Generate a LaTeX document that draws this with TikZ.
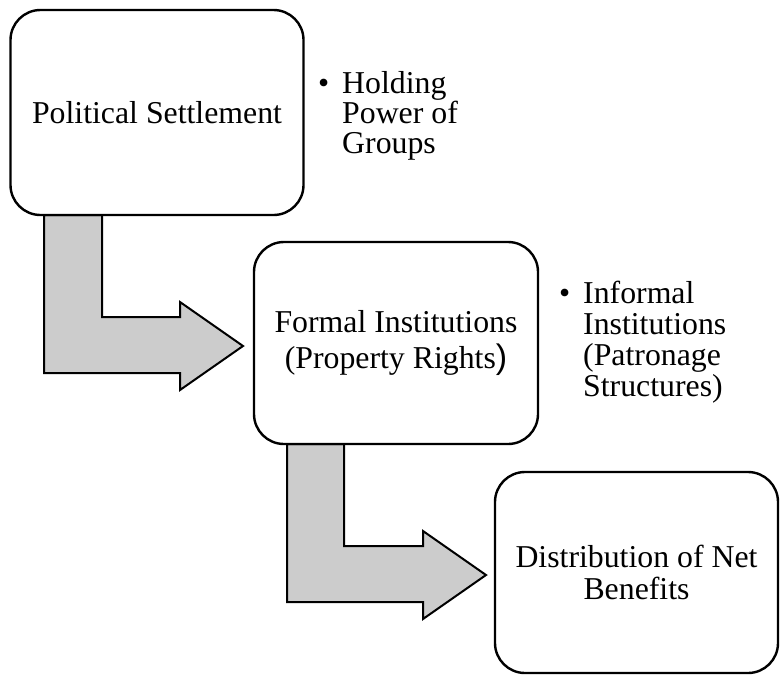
\documentclass[tikz,border=0pt]{standalone}
\usepackage{fontspec}
\setmainfont{Liberation Serif}
\newfontfamily\sanspar{Liberation Sans}
\begin{document}
\begin{tikzpicture}[x=1pt,y=-1pt,
  box/.style={draw=black,line width=2.4pt,rounded corners=30pt,fill=white,
    inner sep=0pt,align=center,font=\fontsize{31.8}{36}\selectfont},
  bendarrow/.style={draw=black,line width=2pt,fill=black!20,line join=miter},
  bullettext/.style={anchor=base west,inner sep=0pt,font=\fontsize{31.8}{31}\selectfont}]
\useasboundingbox (0,0) rectangle (781,675);
% arrows
\draw[bendarrow] (44,215) -- (44,373) -- (180,373) -- (180,390) -- (243,346)
  -- (180,302) -- (180,317) -- (102,317) -- (102,215) -- cycle;
\draw[bendarrow] (287,444) -- (287,602) -- (423,602) -- (423,619) -- (486,575)
  -- (423,531) -- (423,546) -- (344,546) -- (344,444) -- cycle;
% boxes
\node[box,minimum width=293pt,minimum height=205pt] (ps) at (157,112.5) {Political Settlement};
\node[box,minimum width=284pt,minimum height=202pt] (fi) at (396,343) {Formal Institutions\\(Property Rights{\sanspar\fontsize{34}{36}\selectfont)}};
\node[box,minimum width=283pt,minimum height=201pt,font=\fontsize{31.8}{32}\selectfont] (db) at (636.5,572.5) {Distribution of Net\\Benefits};
% bullet texts
\node[bullettext] (hp) at (318,93) {\parbox[t]{160pt}{\baselineskip=30pt\makebox[24pt][l]{•}Holding\\\hspace*{24pt}Power of\\\hspace*{24pt}Groups}};
\node[bullettext] (ii) at (559,303.3) {\parbox[t]{220pt}{\baselineskip=31pt\makebox[24pt][l]{•}Informal\\\hspace*{24pt}Institutions\\\hspace*{24pt}(Patronage\\\hspace*{24pt}Structures)}};
\end{tikzpicture}
\end{document}
